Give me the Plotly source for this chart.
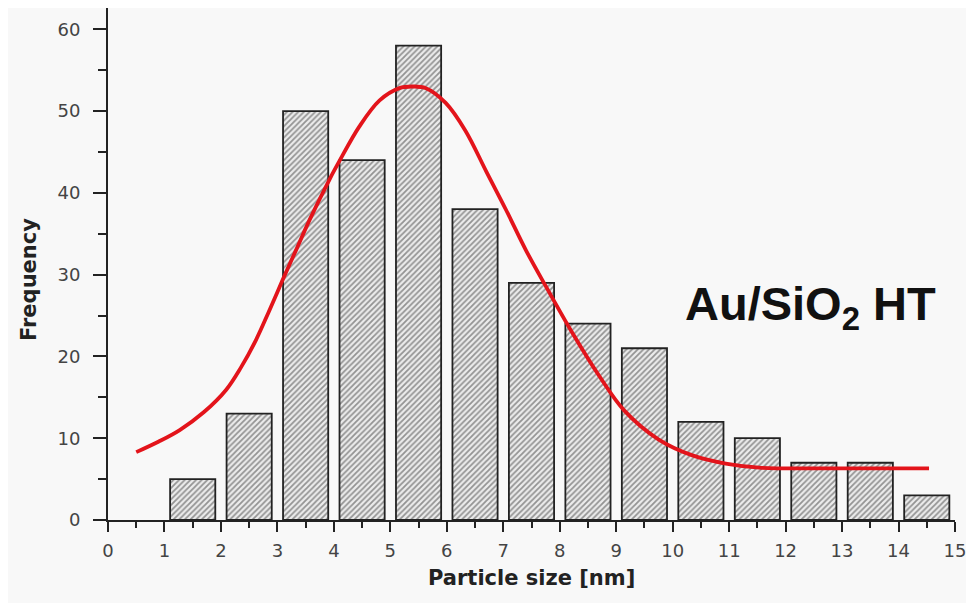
import plotly.graph_objects as go

bin_centers = [1.5, 2.5, 3.5, 4.5, 5.5, 6.5, 7.5, 8.5, 9.5, 10.5, 11.5, 12.5, 13.5, 14.5]
frequency = [5, 13, 50, 44, 58, 38, 29, 24, 21, 12, 10, 7, 7, 3]

fit_x = [0.5, 0.9, 1.27, 1.7, 2.09, 2.35, 2.62, 2.85, 3.09, 3.33, 3.57, 3.92, 4.10, 4.45,
         4.81, 5.16, 5.39, 5.63, 5.98, 6.33, 6.70, 7.05, 7.40, 7.76, 8.23, 8.70, 9.14,
         9.76, 10.35, 10.94, 11.53, 12.5, 13.5, 14.54]
fit_y = [8.3, 9.6, 11.0, 13.2, 15.9, 18.6, 22.0, 25.5, 29.3, 33.0, 36.7, 41.6, 43.9, 48.1,
         51.3, 52.8, 53.0, 52.8, 51.0, 47.6, 42.6, 37.9, 33.0, 28.5, 22.8, 17.6, 13.4,
         9.8, 7.9, 6.9, 6.4, 6.3, 6.3, 6.3]

# page body has an 8px margin; plot area in the page spans x 108..955, y 8..520
L, T, W, H = 100, 0, 847, 512


def px(x):
    return (x - 8 - L) / W


def py(y):
    return 1 - (y - 8 - T) / H


title_font = "DejaVu Sans, Arial, sans-serif"

fig = go.Figure()
fig.add_trace(go.Bar(
    x=bin_centers, y=frequency, width=0.8,
    marker=dict(color="#ececec",
                line=dict(color="#222222", width=1.8),
                pattern=dict(shape="/", fgcolor="#3a3a3a", bgcolor="#ececec",
                             size=4, solidity=0.45)),
    showlegend=False,
))
fig.add_trace(go.Scatter(
    x=fit_x, y=fit_y, mode="lines",
    line=dict(color="#e3141b", width=3.8, shape="spline", smoothing=1.0),
    showlegend=False,
))

fig.update_layout(
    width=974, height=603,
    margin=dict(l=L, r=974 - L - W, t=T, b=603 - T - H),
    paper_bgcolor="#f8f8f8", plot_bgcolor="#f8f8f8",
    font=dict(family="Arial, Liberation Sans, sans-serif", color="#333333"),
    annotations=[
        dict(x=px(810), y=py(307), xref="paper", yref="paper",
             text="<b>Au/SiO<sub>2</sub> HT</b>", showarrow=False,
             font=dict(size=47, color="#111111",
                       family="Arial, Liberation Sans, sans-serif"),
             xanchor="center", yanchor="middle"),
        dict(x=px(29), y=py(280), xref="paper", yref="paper",
             text="<b>Frequency</b>", showarrow=False, textangle=-90,
             font=dict(size=21, color="#222222", family=title_font),
             xanchor="center", yanchor="middle"),
        dict(x=px(531), y=py(578), xref="paper", yref="paper",
             text="<b>Particle size [nm]</b>", showarrow=False,
             font=dict(size=21, color="#222222", family=title_font),
             xanchor="center", yanchor="middle"),
    ],
)

fig.update_xaxes(
    range=[0, 15], tickmode="linear", tick0=0, dtick=1, automargin=False,
    showgrid=False, zeroline=False, showline=True, linecolor="#222222", linewidth=2,
    ticks="outside", ticklen=10, tickwidth=2, tickcolor="#222222",
    tickfont=dict(size=18, color="#444444", family=title_font),
    ticklabelstandoff=3,
    minor=dict(ticks="outside", dtick=0.5, ticklen=6, tickwidth=2, tickcolor="#222222"),
)
fig.update_yaxes(
    range=[0, 62.6], tickmode="linear", tick0=0, dtick=10, automargin=False,
    showgrid=False, zeroline=False, showline=True, linecolor="#222222", linewidth=2,
    ticks="outside", ticklen=13, tickwidth=2, tickcolor="#222222",
    tickfont=dict(size=18, color="#444444", family=title_font),
    ticklabelstandoff=9,
    minor=dict(ticks="outside", dtick=5, ticklen=8, tickwidth=2, tickcolor="#222222"),
)

fig.write_html("out.html")
